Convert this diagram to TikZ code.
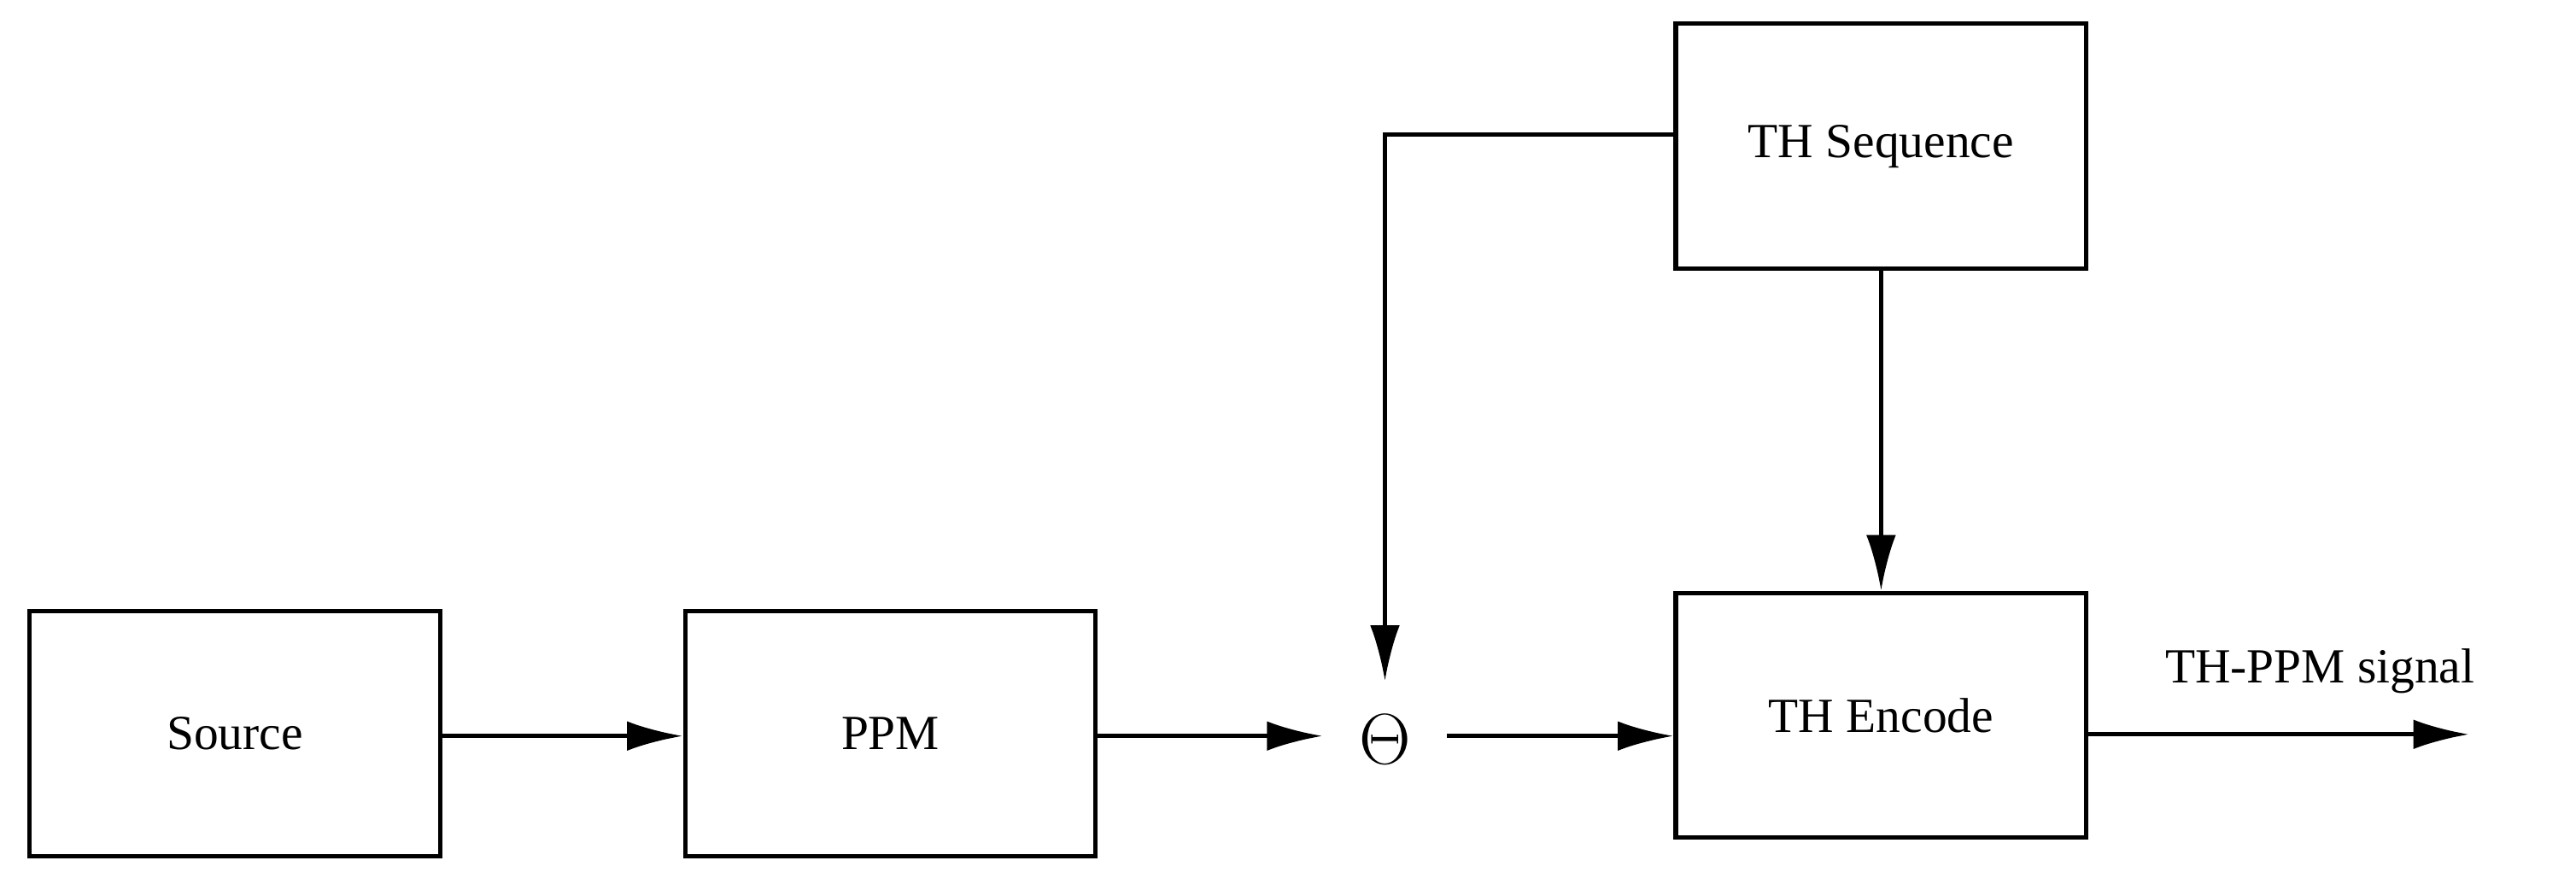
\documentclass[tikz,border=0pt]{standalone}
\usepackage{fontspec}
\setmainfont{Liberation Serif}
\usetikzlibrary{arrows.meta}
\begin{document}
\begin{tikzpicture}[x=0.02cm,y=-0.02cm,
  box/.style={draw,line width=1.5pt,minimum width=5cm,minimum height=2.98cm,inner sep=0pt,font=\fontsize{17}{20}\selectfont},
  con/.style={line width=1.5pt,-{Latex[length=0.68cm,width=0.36cm]}}]
\useasboundingbox (0,0) rectangle (1568,537.6);
\node[box] (src) at (143,446.5) {Source};
\node[box] (ppm) at (542,446.5) {PPM};
\node[box] (enc) at (1145,435.5) {TH Encode};
\node[box] (seq) at (1145,89) {TH Sequence};
\node[inner sep=0pt,minimum width=1.5cm,minimum height=1.4cm,font=\fontsize{44}{48}\selectfont] (th) at (843,450) {$\Theta$};
\coordinate (out) at (1503,447);
\draw[con] (src.east |- 0,448) -- (ppm.west |- 0,448);
\draw[con] (ppm.east |- 0,448) -- (th.west |- 0,448);
\draw[con] (th.east |- 0,448) -- (enc.west |- 0,448);
\draw[con] (seq.west |- 0,82) -- (843,82) -- (th.north);
\draw[con] (seq.south) -- (enc.north);
\draw[con] (enc.east |- 0,447) -- node[above=0.35cm,font=\fontsize{17}{20}\selectfont,xshift=0.5cm]{TH-PPM signal} (out);
\end{tikzpicture}
\end{document}
